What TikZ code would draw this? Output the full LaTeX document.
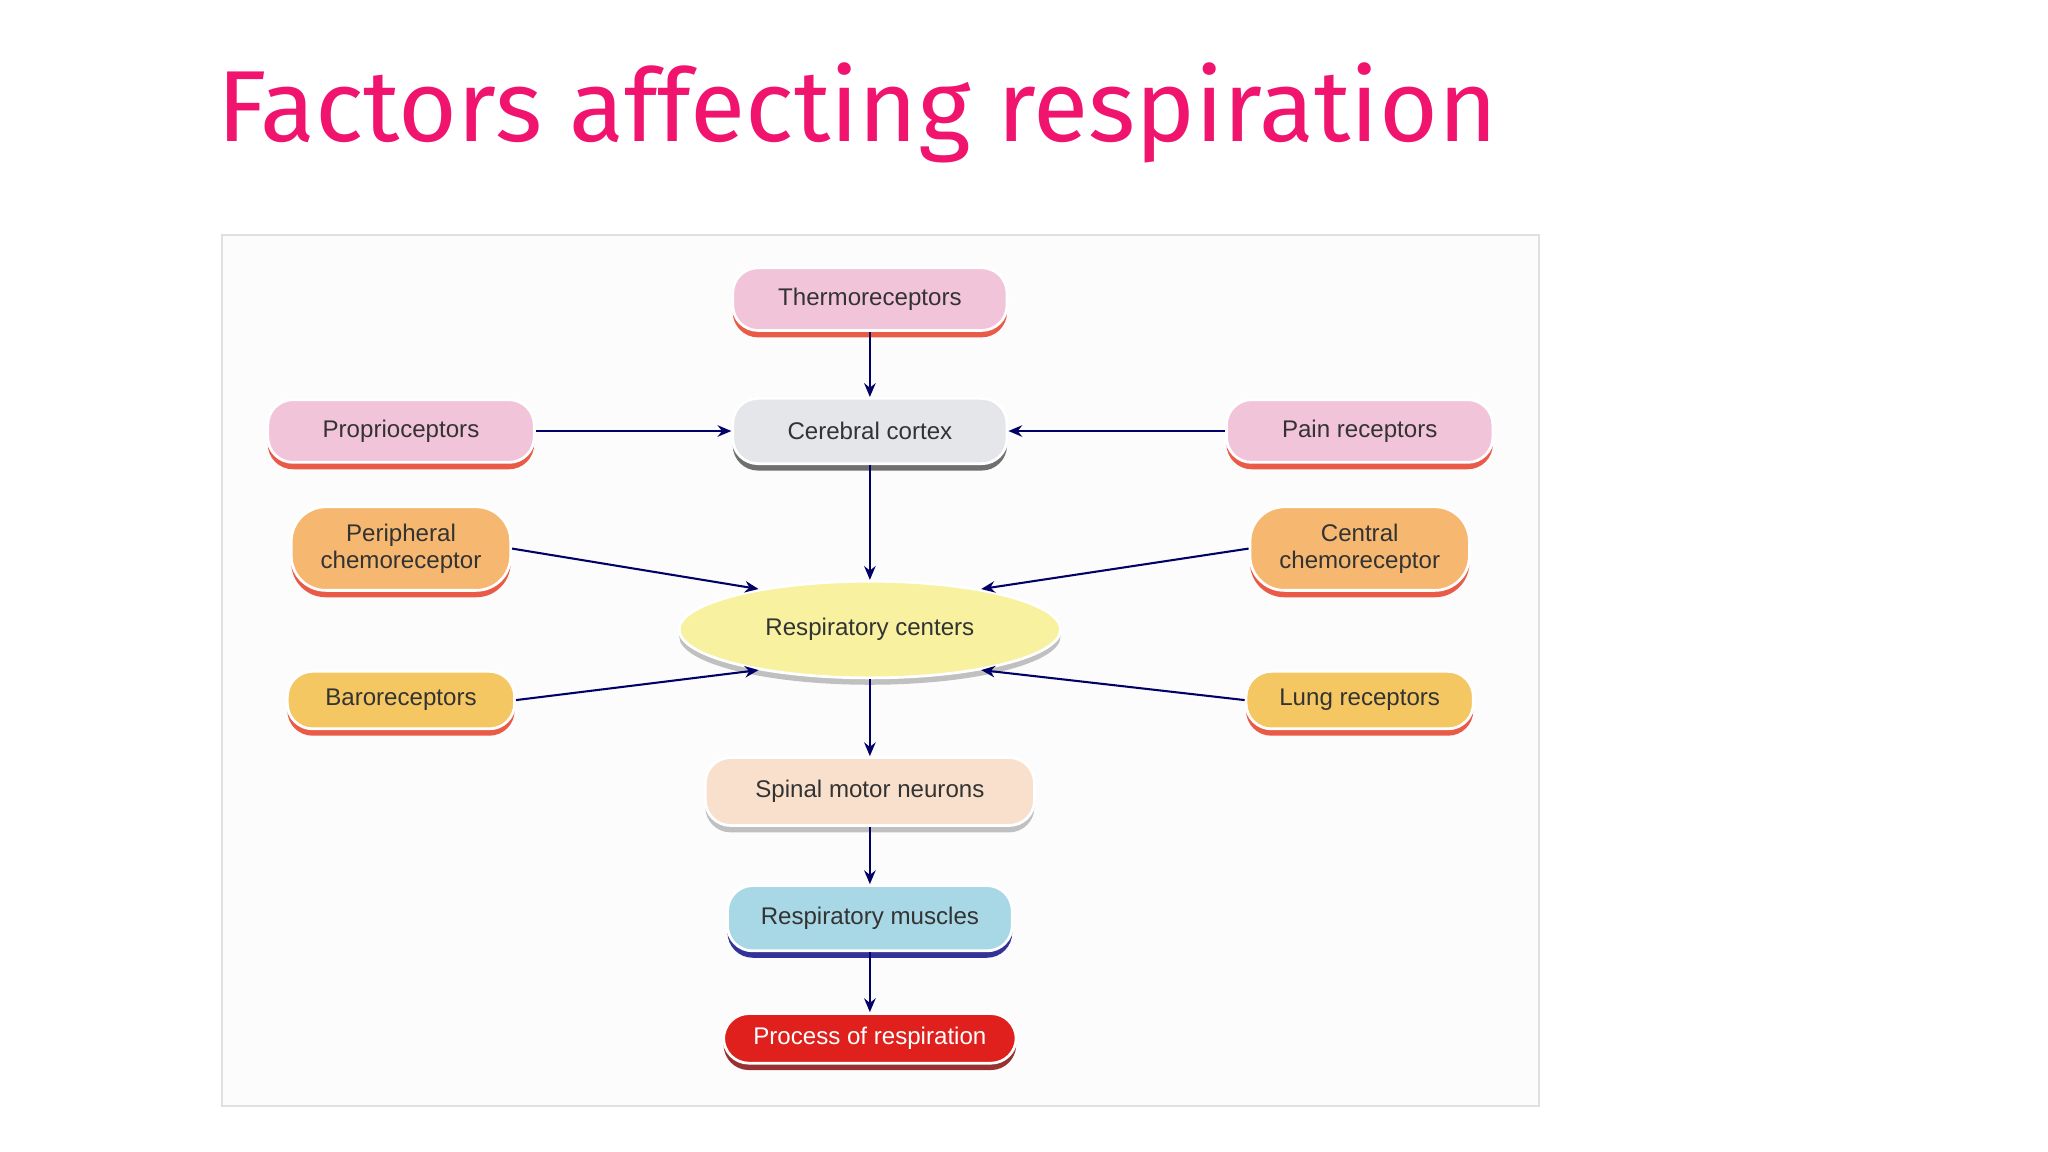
\documentclass[tikz,border=0pt]{standalone}
\usepackage{fontspec}
\setmainfont{Liberation Sans}
\newfontfamily\titlefont{Fira Sans}
\usetikzlibrary{shapes.geometric,arrows.meta,shadows}
\begin{document}
\begin{tikzpicture}[x=0.02cm,y=-0.02cm,
  box/.style={rounded corners=11pt,draw=white,line width=1.2pt,align=center,font=\fontsize{10.5}{12}\selectfont,text=black!80,inner sep=0pt,
    drop shadow={shadow xshift=0pt,shadow yshift=-3pt,opacity=0.8,fill=#1}},
  box/.default={red!60!brown},
  arr/.style={-{Stealth[length=6pt,width=5pt]},draw=blue!40!black,line width=0.9pt}]
\useasboundingbox (0,0) rectangle (1568,882);
\fill[white] (0,0) rectangle (1568,882);
\node[font=\titlefont\fontsize{44}{50}\selectfont,text={rgb,255:red,240;green,20;blue,110},anchor=base west] (title) at (160,108) {Factors affecting respiration};
\draw[black!12,fill=black!1,line width=0.8pt] (170,180) rectangle (1178,847);
\definecolor{pk}{HTML}{F2C4D9}\definecolor{gr}{HTML}{E4E6EA}
\definecolor{or}{HTML}{F6B870}\definecolor{ye}{HTML}{F7F1A0}
\definecolor{ba}{HTML}{F5C762}\definecolor{sp}{HTML}{F9E0CC}
\definecolor{bl}{HTML}{A8D8E6}\definecolor{rd}{HTML}{E0201C}
\node[box,fill=pk,minimum width=210*0.02cm,minimum height=48*0.02cm] (thermo) at (666,229) {Thermoreceptors};
\node[box=black!70,fill=gr,minimum width=210*0.02cm,minimum height=50*0.02cm] (cortex) at (666,330) {Cerebral cortex};
\node[box,fill=pk,minimum width=204*0.02cm,minimum height=48*0.02cm] (prop) at (307,330) {Proprioceptors};
\node[box,fill=pk,minimum width=204*0.02cm,minimum height=48*0.02cm] (pain) at (1041,330) {Pain receptors};
\node[box,fill=or,rounded corners=15pt,minimum width=168*0.02cm,minimum height=64*0.02cm] (peri) at (307,420) {Peripheral\\chemoreceptor};
\node[box,fill=or,rounded corners=15pt,minimum width=168*0.02cm,minimum height=64*0.02cm] (cent) at (1041,420) {Central\\chemoreceptor};
\node[box=black!30,ellipse,fill=ye,minimum width=292*0.02cm,minimum height=74*0.02cm] (resp) at (666,482) {Respiratory centers};
\node[box,fill=ba,minimum width=174*0.02cm,minimum height=44*0.02cm] (baro) at (307,536) {Baroreceptors};
\node[box,fill=ba,minimum width=174*0.02cm,minimum height=44*0.02cm] (lung) at (1041,536) {Lung receptors};
\node[box=black!30,fill=sp,minimum width=252*0.02cm,minimum height=52*0.02cm] (spinal) at (666,606) {Spinal motor neurons};
\node[box=blue!50!black,fill=bl,minimum width=218*0.02cm,minimum height=50*0.02cm] (musc) at (666,703) {Respiratory muscles};
\node[box=red!50!black,fill=rd,text=white,minimum width=224*0.02cm,minimum height=38*0.02cm] (proc) at (666,795) {Process of respiration};
\draw[arr] (thermo) -- (cortex);
\draw[arr] (prop) -- (cortex);
\draw[arr] (pain) -- (cortex);
\draw[arr] (cortex) -- (resp);
\draw[arr] (peri.east) -- (resp.160);
\draw[arr] (cent.west) -- (resp.20);
\draw[arr] (baro.east) -- (resp.200);
\draw[arr] (lung.west) -- (resp.340);
\draw[arr] (resp) -- (spinal);
\draw[arr] (spinal) -- (musc);
\draw[arr] (musc) -- (proc);
\end{tikzpicture}
\end{document}
